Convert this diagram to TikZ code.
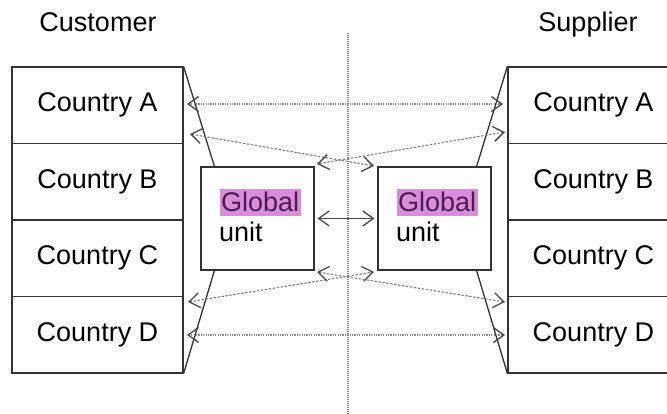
\documentclass[tikz,border=0pt]{standalone}
\usepackage{fontspec}
\setmainfont{Liberation Sans}
\usetikzlibrary{arrows.meta,calc}
\definecolor{edge}{HTML}{333333}
\definecolor{hlfill}{HTML}{D98CDA}
\definecolor{hltext}{HTML}{4E1A52}
\begin{document}
\begin{tikzpicture}[x=1pt,y=-1pt,
  barb/.tip={Straight Barb[length=10.5pt,width=15pt,color=black!72,line width=1.3pt]},
  txt/.style={font=\fontsize{27}{30}\selectfont},
  country/.style={txt, draw=edge, line width=1.2pt, minimum width=171pt,
    minimum height=76.5pt, inner sep=0pt},
  unitbox/.style={draw=edge, line width=1.2pt, minimum width=113pt,
    minimum height=103pt, inner sep=0pt},
  hl/.style={txt, fill=hlfill, text=hltext, inner xsep=1.5pt, inner ysep=0pt,
    text height=23pt, text depth=4pt, anchor=base west},
  plain/.style={txt, inner sep=0pt, anchor=base west},
  funnel/.style={draw=edge, line width=1.3pt},
  flow/.style={draw=black!45, line width=1.1pt, dash pattern=on 1.2pt off 1.2pt, barb-barb},
  cross/.style={draw=black!50, line width=1.1pt, dash pattern=on 2.5pt off 1.5pt, barb-barb},
  link/.style={draw=black!72, line width=1.3pt, barb-barb},
  divider/.style={draw=black!50, line width=1.1pt, dash pattern=on 1pt off 1pt}
]
\useasboundingbox (0,0) rectangle (667,414);

% headings
\node[txt, anchor=base] (cust) at (98,32) {Customer};
\node[txt, anchor=base] (supp) at (588,32) {Supplier};

% central divider
\coordinate (dtop) at (348,33);
\coordinate (dbot) at (348,414);
\draw[divider] (dtop) -- (dbot);

% customer countries
\node[country] (ca) at (97.5,105.25) {Country A};
\node[country] (cb) at (97.5,181.75) {Country B};
\node[country] (cc) at (97.5,258.25) {Country C};
\node[country] (cd) at (97.5,334.75) {Country D};

% supplier countries
\node[country] (sa) at (593.5,105.25) {Country A};
\node[country] (sb) at (593.5,181.75) {Country B};
\node[country] (sc) at (593.5,258.25) {Country C};
\node[country] (sd) at (593.5,334.75) {Country D};

% global units
\node[unitbox] (ul) at (257.5,218.5) {};
\node[unitbox] (ur) at (434.5,218.5) {};
\node[hl] (ulg) at (219.5,212) {Global};
\node[plain] (ulu) at (219,242) {unit};
\node[hl] (urg) at (396.5,212) {Global};
\node[plain] (uru) at (396,242) {unit};

% funnel edges from the country stacks to the global units
\draw[funnel] (ca.north east) -- ($(ul.north west)+(14,0)$);
\draw[funnel] (cd.south east) -- ($(ul.south west)+(14,0)$);
\draw[funnel] (sa.north west) -- ($(ur.north east)+(-15,0)$);
\draw[funnel] (sd.south west) -- ($(ur.south east)+(-15,0)$);

% connector end points
\coordinate (ta1) at (187,104);  \coordinate (ta2) at (503,104);
\coordinate (tl1) at (190,134);  \coordinate (tl2) at (374,166);
\coordinate (tr1) at (505,132);  \coordinate (tr2) at (317,164);
\coordinate (bl1) at (188,302);  \coordinate (bl2) at (374,272);
\coordinate (br1) at (505,302);  \coordinate (br2) at (317,272);
\coordinate (bd1) at (187,335);  \coordinate (bd2) at (505,335);

% country to country flows
\draw[flow] (ta1) -- (ta2);
\draw[flow] (bd1) -- (bd2);

% flows through the global units
\draw[cross] (tl1) -- (tl2);
\draw[cross] (tr1) -- (tr2);
\draw[cross] (bl1) -- (bl2);
\draw[cross] (br1) -- (br2);

% link between the global units
\draw[link, shorten <=3pt, shorten >=3pt] (ul.east) -- (ur.west);
\end{tikzpicture}
\end{document}
